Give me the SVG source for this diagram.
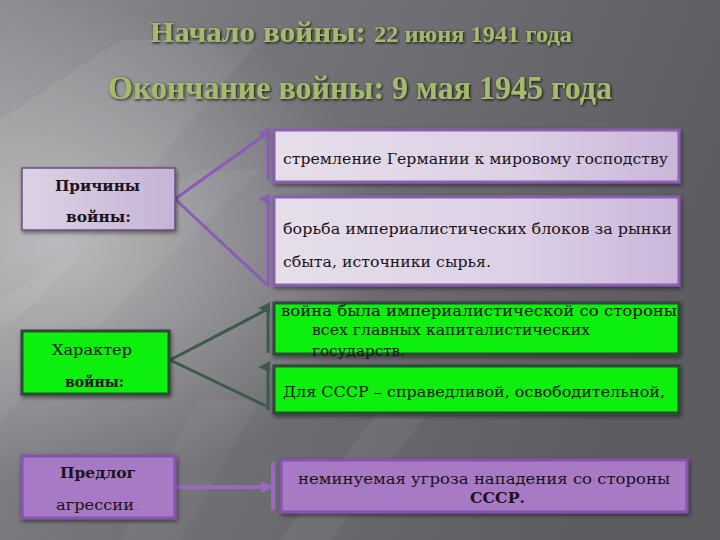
<svg xmlns="http://www.w3.org/2000/svg" width="720" height="540" viewBox="0 0 720 540">
<defs>
<linearGradient id="bg" x1="0" y1="0" x2="1" y2="0.3">
<stop offset="0" stop-color="#8e8e92"/>
<stop offset="0.35" stop-color="#75757a"/>
<stop offset="1" stop-color="#5c5c61"/>
</linearGradient>
<radialGradient id="glow" cx="0.08" cy="0.45" r="0.45">
<stop offset="0" stop-color="#c4c4c6" stop-opacity="0.8"/>
<stop offset="1" stop-color="#c4c4c6" stop-opacity="0"/>
</radialGradient>
<linearGradient id="lav" x1="0" y1="0" x2="1" y2="0">
<stop offset="0" stop-color="#e6dfeb"/>
<stop offset="0.6" stop-color="#ddd0e6"/>
<stop offset="1" stop-color="#cbb6db"/>
</linearGradient>
<linearGradient id="lav2" x1="0" y1="0" x2="1" y2="0">
<stop offset="0" stop-color="#dcd2e4"/>
<stop offset="1" stop-color="#c6b3d6"/>
</linearGradient>
<filter id="sh" filterUnits="userSpaceOnUse" x="0" y="0" width="720" height="130">
<feGaussianBlur in="SourceAlpha" stdDeviation="1.6"/>
<feOffset dx="1" dy="1"/>
<feComponentTransfer><feFuncA type="linear" slope="0.9"/></feComponentTransfer>
<feMerge><feMergeNode/><feMergeNode in="SourceGraphic"/></feMerge>
</filter>
<filter id="bsh" x="-5%" y="-10%" width="110%" height="125%">
<feGaussianBlur in="SourceAlpha" stdDeviation="2"/>
<feOffset dx="1" dy="2"/>
<feComponentTransfer><feFuncA type="linear" slope="0.5"/></feComponentTransfer>
<feMerge><feMergeNode/><feMergeNode in="SourceGraphic"/></feMerge>
</filter>
<marker id="ap" viewBox="0 0 10 10" refX="5" refY="8" markerWidth="4" markerHeight="4" orient="auto-start-reverse" markerUnits="strokeWidth">
<path d="M0,10 L5,0 L10,10 z" fill="#8a5cb8"/>
</marker>
<marker id="ag" viewBox="0 0 10 10" refX="5" refY="8" markerWidth="4" markerHeight="4" orient="auto-start-reverse" markerUnits="strokeWidth">
<path d="M0,10 L5,0 L10,10 z" fill="#3b5a48"/>
</marker>
<marker id="am" viewBox="0 0 10 10" refX="8" refY="5" markerWidth="3" markerHeight="3" orient="auto" markerUnits="strokeWidth">
<path d="M0,0 L10,5 L0,10 z" fill="#9a68c0"/>
</marker>
</defs>
<style>
.t{font-family:"DejaVu Serif","Liberation Serif",serif;fill:#1a1418;font-size:15px}
.ttl{font-family:"Liberation Serif","DejaVu Serif",serif;font-weight:bold;fill:#a3bb6a;filter:url(#sh)}
.lav{fill:url(#lav);stroke:#8a5fb0;stroke-width:3}
.grn{fill:#07f007;stroke:#2f4a38;stroke-width:3}
.pur{fill:#a87ac6;stroke:#8552ae;stroke-width:3}
.cp{stroke:#8a5cb8;stroke-width:3;fill:none}
.cg{stroke:#3b5a48;stroke-width:3;fill:none}
.cm{stroke:#9a68c0;stroke-width:4;fill:none}
</style>
<rect width="720" height="540" fill="url(#bg)"/>
<rect width="720" height="540" fill="url(#glow)"/>
<polygon points="0,120 120,40 260,40 40,300 0,330" fill="#ffffff" opacity="0.06"/>
<polygon points="0,300 200,170 260,170 0,420" fill="#ffffff" opacity="0.05"/>
<polygon points="380,410 430,410 330,540 280,540" fill="#ffffff" opacity="0.05"/>
<polygon points="200,400 260,400 180,540 120,540" fill="#ffffff" opacity="0.04"/>

<g id="titles">
<text class="ttl" x="150" y="42" font-size="29" textLength="216" lengthAdjust="spacingAndGlyphs">Начало войны:</text>
<text class="ttl" x="374" y="42" font-size="23" textLength="198" lengthAdjust="spacingAndGlyphs">22 июня 1941 года</text>
<text class="ttl" x="108" y="99" font-size="33" textLength="504" lengthAdjust="spacingAndGlyphs">Окончание войны: 9 мая 1945 года</text>
</g>

<g id="connectors">
<line class="cp" x1="175" y1="199" x2="266" y2="134"/>
<line class="cp" x1="268" y1="181" x2="268" y2="133" marker-end="url(#ap)"/>
<line class="cp" x1="175" y1="199" x2="266" y2="284"/>
<line class="cp" x1="268" y1="287" x2="268" y2="199" marker-end="url(#ap)"/>
<line class="cg" x1="170" y1="360" x2="266" y2="310"/>
<line class="cg" x1="268" y1="353" x2="268" y2="308" marker-end="url(#ag)"/>
<line class="cg" x1="170" y1="360" x2="266" y2="406"/>
<line class="cg" x1="268" y1="410" x2="268" y2="367" marker-end="url(#ag)"/>
<line class="cm" x1="175" y1="487" x2="271" y2="487" marker-end="url(#am)"/>
<line class="cm" x1="273" y1="462" x2="273" y2="510"/>
</g>

<g id="prichiny">
<rect x="22" y="168" width="153" height="62" fill="url(#lav2)" stroke="#6b4c82" stroke-width="1.5" filter="url(#bsh)"/>
<text class="t" x="55" y="191" font-weight="bold" textLength="85" lengthAdjust="spacingAndGlyphs">Причины</text>
<text class="t" x="66" y="222" font-weight="bold" textLength="65" lengthAdjust="spacingAndGlyphs">войны:</text>
</g>

<g id="box1">
<rect class="lav" x="274" y="130" width="405" height="52" filter="url(#bsh)"/>
<text class="t" x="283" y="164" textLength="385" lengthAdjust="spacingAndGlyphs">стремление Германии к мировому господству</text>
</g>

<g id="box2">
<rect class="lav" x="274" y="197" width="405" height="88" filter="url(#bsh)"/>
<text class="t" x="283" y="234" textLength="389" lengthAdjust="spacingAndGlyphs">борьба империалистических блоков за рынки</text>
<text class="t" x="283" y="267" textLength="208" lengthAdjust="spacingAndGlyphs">сбыта, источники сырья.</text>
</g>

<g id="harakter">
<rect class="grn" x="22" y="331" width="147" height="63" filter="url(#bsh)"/>
<text class="t" x="52" y="355" textLength="80" lengthAdjust="spacingAndGlyphs">Характер</text>
<text class="t" x="65" y="387" font-weight="bold" textLength="59" lengthAdjust="spacingAndGlyphs">войны:</text>
</g>

<g id="box3">
<rect class="grn" x="274" y="303" width="405" height="51" filter="url(#bsh)"/>
<text class="t" x="281" y="316" textLength="396" lengthAdjust="spacingAndGlyphs">война была империалистической со стороны</text>
<text class="t" x="312" y="335" textLength="278" lengthAdjust="spacingAndGlyphs">всех главных капиталистических</text>
<text class="t" x="312" y="356" textLength="93" lengthAdjust="spacingAndGlyphs">государств.</text>
</g>

<g id="box4">
<rect class="grn" x="274" y="366" width="405" height="47" filter="url(#bsh)"/>
<text class="t" x="283" y="397" textLength="382" lengthAdjust="spacingAndGlyphs">Для СССР – справедливой, освободительной,</text>
</g>

<g id="predlog">
<rect class="pur" x="22" y="456" width="153" height="62" filter="url(#bsh)"/>
<text class="t" x="60" y="478" font-weight="bold" textLength="76" lengthAdjust="spacingAndGlyphs">Предлог</text>
<text class="t" x="56" y="510" textLength="78" lengthAdjust="spacingAndGlyphs">агрессии</text>
<text x="139" y="510" font-family="DejaVu Serif, serif" font-size="13" fill="#e0a040">-</text>
</g>

<g id="box5">
<rect class="pur" x="281" y="460" width="406" height="52" filter="url(#bsh)"/>
<text class="t" x="298" y="484" textLength="372" lengthAdjust="spacingAndGlyphs">неминуемая угроза нападения со стороны</text>
<text class="t" x="470" y="503" font-weight="bold" textLength="55" lengthAdjust="spacingAndGlyphs">СССР.</text>
</g>
</svg>
